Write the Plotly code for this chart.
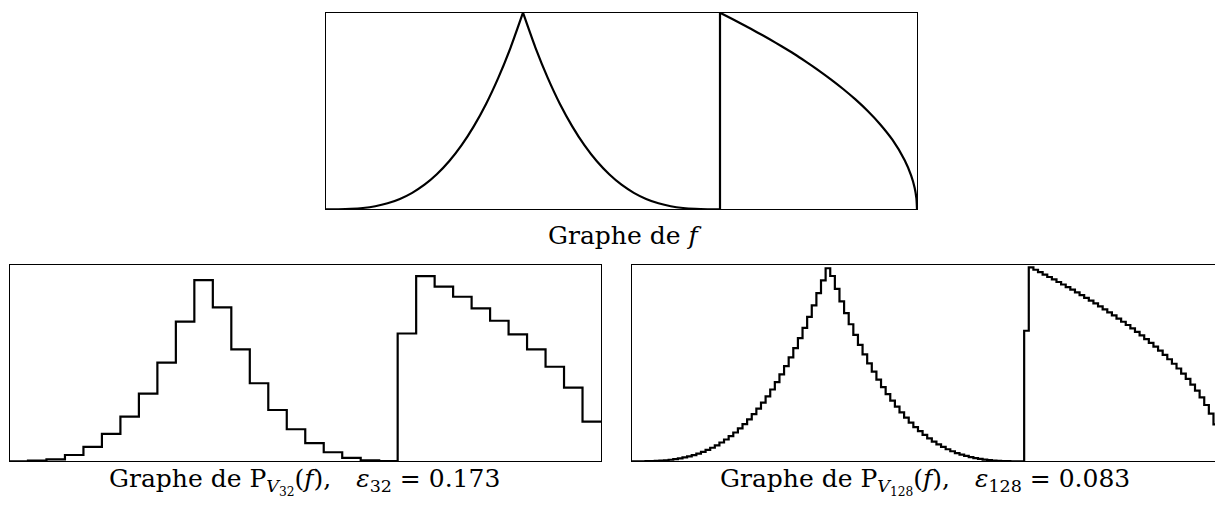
import numpy as np
import plotly.graph_objects as go

# ---------------- data ----------------
# f on [0, 1/3] (rising part), sampled every 1/48
f_rise_x = [0, 0.02083, 0.04167, 0.0625, 0.08333, 0.10417, 0.125, 0.14583, 0.16667,
            0.1875, 0.20833, 0.22917, 0.25, 0.27083, 0.29167, 0.3125, 0.33333]
f_rise_y = [0.0, 0.0002, 0.002, 0.0066, 0.0156, 0.0305, 0.0527, 0.0837, 0.125,
            0.178, 0.244, 0.325, 0.422, 0.536, 0.670, 0.824, 1.0]
# f on [1/3, 2/3] (falling part)
f_fall_x = [0.33333, 0.35417, 0.375, 0.39583, 0.41667, 0.4375, 0.45833, 0.47917, 0.5,
            0.52083, 0.54167, 0.5625, 0.58333, 0.60417, 0.625, 0.64583, 0.66667]
f_fall_y = [1.0, 0.824, 0.670, 0.536, 0.422, 0.325, 0.244, 0.178, 0.125,
            0.0837, 0.0527, 0.0305, 0.0156, 0.0066, 0.002, 0.0002, 0.0]
# f on [2/3, 1] (after the jump)
f_tail_x = [0.66667, 0.6875, 0.70833, 0.72917, 0.75, 0.77083, 0.79167, 0.8125, 0.83333,
            0.85417, 0.875, 0.89583, 0.91667, 0.9375, 0.95833, 0.97917, 0.99, 0.996, 0.999, 1.0]
f_tail_y = [1.0, 0.968, 0.935, 0.901, 0.866, 0.829, 0.791, 0.75, 0.707,
            0.661, 0.612, 0.559, 0.5, 0.433, 0.354, 0.25, 0.173, 0.11, 0.055, 0.0]

# projection on V32 (32 equal cells on [0,1])
p32 = [0.0, 0.003, 0.010, 0.032, 0.073, 0.139, 0.227, 0.344, 0.502, 0.710,
       0.922, 0.783, 0.569, 0.397, 0.261, 0.163, 0.092, 0.046, 0.017, 0.005,
       0.001, 0.650, 0.942, 0.888, 0.837, 0.778, 0.715, 0.646, 0.569, 0.481,
       0.375, 0.202]

# projection on V128 (128 equal cells on [0,1])
p128 = [0.0, 0.0, 0.0002, 0.0006, 0.0012, 0.0021, 0.0035, 0.0054, 0.0079, 0.0110,
        0.0149, 0.0196, 0.0252, 0.0317, 0.0393, 0.0479, 0.0578, 0.0690, 0.0815, 0.0955,
        0.1109, 0.1280, 0.1466, 0.1671, 0.1893, 0.2135, 0.2396, 0.2678, 0.2980, 0.3305,
        0.3653, 0.4024, 0.4420, 0.4840, 0.5287, 0.5760, 0.6261, 0.6790, 0.7347, 0.7935,
        0.8553, 0.9202, 0.9820, 0.9426, 0.8766, 0.8137, 0.7540, 0.6972, 0.6434, 0.5924,
        0.5441, 0.4986, 0.4557, 0.4153, 0.3774, 0.3419, 0.3086, 0.2776, 0.2488, 0.2220,
        0.1972, 0.1743, 0.1533, 0.1340, 0.1164, 0.1004, 0.0860, 0.0730, 0.0614, 0.0511,
        0.0420, 0.0341, 0.0272, 0.0213, 0.0164, 0.0122, 0.0089, 0.0062, 0.0041, 0.0026,
        0.0015, 0.0007, 0.0003, 0.0001, 0.0, 0.6640, 0.9862, 0.9743, 0.9622, 0.9499,
        0.9375, 0.9249, 0.9121, 0.8992, 0.8861, 0.8728, 0.8592, 0.8455, 0.8315, 0.8173,
        0.8028, 0.7881, 0.7731, 0.7578, 0.7421, 0.7262, 0.7099, 0.6932, 0.6760, 0.6585,
        0.6404, 0.6219, 0.6027, 0.5830, 0.5625, 0.5413, 0.5191, 0.4961, 0.4719, 0.4463,
        0.4193, 0.3903, 0.3590, 0.3248, 0.2864, 0.2421, 0.1875, 0.1020]

title_top = "Graphe de <i>f</i>"
title_32 = "Graphe de P<sub><i>V</i><sub>32</sub></sub>(<i>f</i>),\u2003<i>ε</i><sub>32</sub> = 0.173"
title_128 = "Graphe de P<sub><i>V</i><sub>128</sub></sub>(<i>f</i>),\u2003<i>ε</i><sub>128</sub> = 0.083"

# ---------------- figure ----------------
W, H = 1215, 505
LW = 2.2
FONT = "DejaVu Serif"

fig = go.Figure()

def steps(vals):
    n = len(vals)
    x = list(np.arange(n + 1) / n)
    y = list(vals) + [vals[-1]]
    return x, y

line = dict(color="black", width=LW)
curve = dict(color="black", width=LW, shape="spline", smoothing=0.6)

# top panel: f
fig.add_trace(go.Scatter(x=f_rise_x, y=f_rise_y, mode="lines", line=curve, xaxis="x", yaxis="y", showlegend=False))
fig.add_trace(go.Scatter(x=f_fall_x, y=f_fall_y, mode="lines", line=curve, xaxis="x", yaxis="y", showlegend=False))
fig.add_trace(go.Scatter(x=[f_fall_x[-1], f_tail_x[0]], y=[f_fall_y[-1], f_tail_y[0]], mode="lines", line=line, xaxis="x", yaxis="y", showlegend=False))
fig.add_trace(go.Scatter(x=f_tail_x, y=f_tail_y, mode="lines", line=curve, xaxis="x", yaxis="y", showlegend=False))

# bottom left: P_V32
x32, y32 = steps(p32)
fig.add_trace(go.Scatter(x=x32, y=y32, mode="lines", line=dict(color="black", width=LW, shape="hv"), xaxis="x2", yaxis="y2", showlegend=False))

# bottom right: P_V128
x128, y128 = steps(p128)
fig.add_trace(go.Scatter(x=x128, y=y128, mode="lines", line=dict(color="black", width=LW, shape="hv"), xaxis="x3", yaxis="y3", showlegend=False))

def px_x(p):
    return p / W

def px_y(p):
    return 1 - p / H

box_w = 591.0
ax_common = dict(showgrid=False, zeroline=False, showticklabels=False, ticks="",
                 showline=True, linecolor="black", linewidth=1.2)

fig.update_layout(
    xaxis=dict(domain=[px_x(326), px_x(917)], range=[0, 1], mirror=True, anchor="y", **ax_common),
    yaxis=dict(domain=[px_y(209.3), px_y(12.7)], range=[0, 1], mirror=True, anchor="x", **ax_common),
    xaxis2=dict(domain=[px_x(9.5), px_x(601)], range=[0, 1], mirror=True, anchor="y2", **ax_common),
    yaxis2=dict(domain=[px_y(461.3), px_y(264.7)], range=[0, 1], mirror=True, anchor="x2", **ax_common),
    xaxis3=dict(domain=[px_x(631.7), 1.0], range=[0, (W - 631.7) / box_w], mirror=True, anchor="y3", **ax_common),
    yaxis3=dict(domain=[px_y(461.3), px_y(264.7)], range=[0, 1], mirror=False, anchor="x3", **ax_common),
)

ann_font = dict(family=FONT, size=25, color="black")
fig.update_layout(annotations=[
    dict(text=title_top, x=px_x(624), y=px_y(236), xref="paper", yref="paper",
         xanchor="center", yanchor="middle", showarrow=False, font=ann_font),
    dict(text=title_32, x=px_x(304), y=px_y(481), xref="paper", yref="paper",
         xanchor="center", yanchor="middle", showarrow=False, font=ann_font),
    dict(text=title_128, x=px_x(925), y=px_y(481), xref="paper", yref="paper",
         xanchor="center", yanchor="middle", showarrow=False, font=ann_font),
])

fig.update_layout(width=W, height=H, margin=dict(l=0, r=0, t=0, b=0),
                  paper_bgcolor="white", plot_bgcolor="white")

fig.write_html("out.html", config={"displayModeBar": False},
               post_script="document.body.style.margin='0px';")
